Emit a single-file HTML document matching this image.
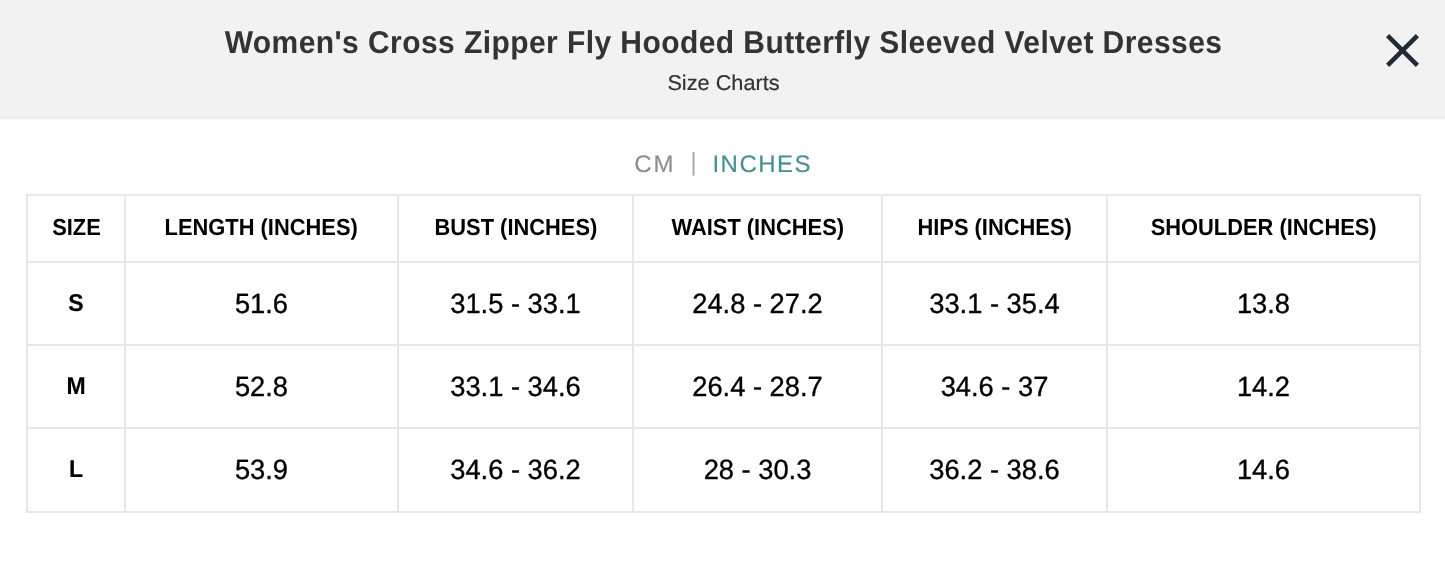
<!DOCTYPE html>
<html>
<head>
<meta charset="utf-8">
<title>Size Charts</title>
<style>
html,body{margin:0;padding:0;background:#fff;}
body{width:1445px;height:567px;overflow:hidden;position:relative;font-family:"Liberation Sans",Arial,Helvetica,sans-serif;color:#000;}
.hdr{position:absolute;left:0;top:0;width:1445px;height:118px;background:#f2f2f2;border-bottom:1px solid #efefef;box-shadow:0 1px 0 #f8f8f8;}
.title{position:absolute;left:1px;width:1445px;top:22px;text-align:center;font-weight:bold;font-size:30px;line-height:40px;color:#333;letter-spacing:0.43px;white-space:nowrap;}
.sub{position:absolute;left:1px;width:1445px;top:69px;text-align:center;font-size:22px;line-height:28px;color:#333;}
.close{position:absolute;left:1384px;top:32px;width:36px;height:36px;}
.units{position:absolute;left:0;top:149px;width:1445px;height:30px;font-size:24px;line-height:30px;letter-spacing:1.5px;white-space:nowrap;}
.units .cm{position:absolute;left:634.3px;top:0;color:#8e8e8e;letter-spacing:1.8px;-webkit-text-stroke:0.15px #8e8e8e;transform:translateY(0.7px);}
.units .sep{position:absolute;left:690px;top:0;width:8px;height:30px;}
.units .in{position:absolute;left:712.4px;top:0;color:#478f90;-webkit-text-stroke:0.15px #478f90;transform:translateY(0.7px);}
table{position:absolute;left:26px;top:194px;border-collapse:collapse;table-layout:fixed;width:1395px;}
td,th{border:2px solid #e6e7ea;text-align:center;vertical-align:middle;padding:0;}
th{height:61px;padding-bottom:4px;font-size:22px;font-weight:bold;}
td{height:81px;font-size:27.3px;}
td.s{font-size:23px;font-weight:bold;height:79px;padding-bottom:2px;}
body{text-rendering:geometricPrecision;}
.title span,.sub span,th span,td span{display:inline-block;transform:scaleY(1.05);transform-origin:50% 50%;}
.title span{transform:translateY(1.5px) scaleY(1.055);}
.sub span{transform:translate(-0.35px,0.55px) scale(0.987,0.97);-webkit-text-stroke:0.2px #333;}
th span{transform:translateY(1px) scale(0.994,1.055);}
td span{transform:translateY(0px) scaleY(1.02);-webkit-text-stroke:0.35px #000;}
td.s span{transform:translateY(0.1px) scaleY(1.06);-webkit-text-stroke:0.15px #000;}
tr:last-child td{padding-bottom:1px;}
tr:last-child td.s{padding-bottom:3px;}
</style>
</head>
<body>
<div class="hdr"></div>
<div class="title"><span>Women's Cross Zipper Fly Hooded Butterfly Sleeved Velvet Dresses</span></div>
<div class="sub"><span>Size Charts</span></div>
<svg class="close" viewBox="0 0 36 36"><path d="M3.6 3.6 L33.4 33.4 M33.4 3.6 L3.6 33.4" stroke="#212b36" stroke-width="4.5" fill="none"/></svg>
<div class="units"><span class="cm">CM</span><svg class="sep" viewBox="0 0 8 30"><rect x="2.6" y="3.2" width="1.8" height="23.4" fill="#a0a0a0"/></svg><span class="in">INCHES</span></div>
<table>
<colgroup><col style="width:98px"><col style="width:273px"><col style="width:235px"><col style="width:249px"><col style="width:225px"><col style="width:313px"></colgroup>
<tr><th><span>SIZE</span></th><th><span>LENGTH (INCHES)</span></th><th><span>BUST (INCHES)</span></th><th><span>WAIST (INCHES)</span></th><th><span>HIPS (INCHES)</span></th><th><span>SHOULDER (INCHES)</span></th></tr>
<tr><td class="s"><span>S</span></td><td><span>51.6</span></td><td><span>31.5 - 33.1</span></td><td><span>24.8 - 27.2</span></td><td><span>33.1 - 35.4</span></td><td><span>13.8</span></td></tr>
<tr><td class="s"><span>M</span></td><td><span>52.8</span></td><td><span>33.1 - 34.6</span></td><td><span>26.4 - 28.7</span></td><td><span>34.6 - 37</span></td><td><span>14.2</span></td></tr>
<tr><td class="s"><span>L</span></td><td><span>53.9</span></td><td><span>34.6 - 36.2</span></td><td><span>28 - 30.3</span></td><td><span>36.2 - 38.6</span></td><td><span>14.6</span></td></tr>
</table>
</body>
</html>
